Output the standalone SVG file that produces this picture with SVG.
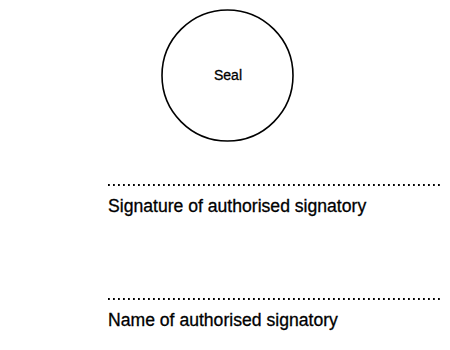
<svg xmlns="http://www.w3.org/2000/svg" width="450" height="350" viewBox="0 0 450 350">
<style>
.t{font-family:"Liberation Sans",Arial,sans-serif;fill:#000;stroke:#000;stroke-width:0.3}
.dots{stroke:#000;stroke-width:1.8;stroke-dasharray:1.8 3.2;fill:none}
</style>
<rect width="450" height="350" fill="#fff"/>
<g id="seal">
<circle cx="227.5" cy="75.5" r="65.5" fill="none" stroke="#000" stroke-width="1.6"/>
<text class="t" x="228" y="80" font-size="14" text-anchor="middle">Seal</text>
</g>
<g id="signature">
<line class="dots" x1="108" y1="185" x2="440" y2="185"/>
<text class="t" x="108" y="212" font-size="17.6">Signature of authorised signatory</text>
</g>
<g id="name">
<line class="dots" x1="108" y1="299" x2="440" y2="299"/>
<text class="t" x="108" y="326" font-size="17.6">Name of authorised signatory</text>
</g>
</svg>
